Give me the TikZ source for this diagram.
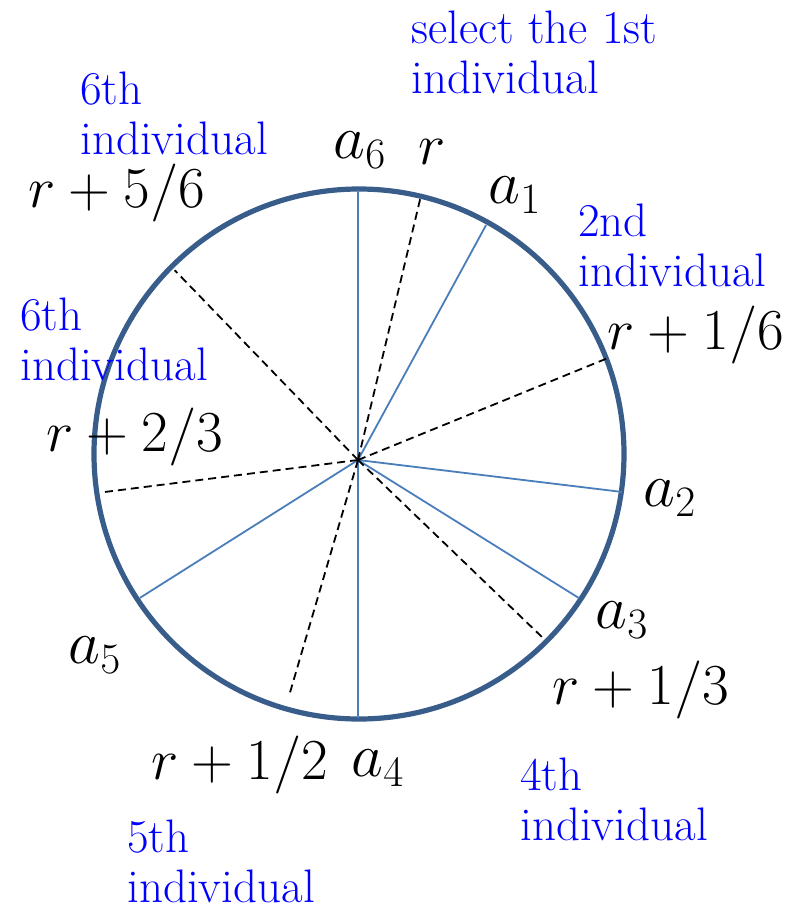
\RequirePackage{fix-cm}
\documentclass[tikz,border=0pt]{standalone}
\usepackage{tikz}
\usepackage{xcolor}
\definecolor{rimblue}{HTML}{385D8A}
\definecolor{spokeblue}{HTML}{4A7EBB}

\begin{document}
\begin{tikzpicture}[x=0.5pt,y=0.5pt,
	rim/.style={draw=rimblue,line width=2.6pt},
	spoke/.style={draw=spokeblue,line width=0.9pt},
	pointer/.style={draw=black,line width=0.9pt,dash pattern=on 4pt off 2.5pt},
	lbl/.style={font=\fontsize{29}{32}\selectfont,inner sep=0pt},
	sub/.style={font=\fontsize{31}{34}\selectfont,inner sep=0pt},
	note/.style={font=\fontsize{23.5}{25}\selectfont,text=blue,align=left,inner sep=0pt,anchor=north west}]
			\useasboundingbox (0,0) rectangle (786,-911);
			\coordinate (c) at (359,-454);
			\coordinate (v0) at (358,-460);
			\draw[rim] (c) circle (265);
			\draw[spoke] (v0) -- ++(61.4:267.6) coordinate (e1);
			\draw[spoke] (v0) -- ++(-6.9:265.9) coordinate (e2);
			\draw[spoke] (v0) -- ++(-32:260.5) coordinate (e3);
			\draw[spoke] (v0) -- ++(-90:258) coordinate (e4);
			\draw[spoke] (v0) -- ++(212.3:258) coordinate (e5);
			\draw[spoke] (v0) -- ++(90:270) coordinate (e6);
			\draw[pointer] (v0) -- ++(76.6:272.4) coordinate (p0);
			\draw[pointer] (v0) -- ++(22.2:272.2) coordinate (p1);
			\draw[pointer] (v0) -- ++(-43.9:256.7) coordinate (p2);
			\draw[pointer] (v0) -- ++(253.7:242.7) coordinate (p3);
			\draw[pointer] (v0) -- ++(187.2:255) coordinate (p4);
			\draw[pointer] (v0) -- ++(134:263.8) coordinate (p5);
			\node[sub] (la6) at (360,-150) {$a_6$};
			\node[sub] (la1) at (515,-195) {$a_1$};
			\node[sub] (la2) at (670,-498) {$a_2$};
			\node[sub] (la3) at (622,-620) {$a_3$};
			\node[sub] (la4) at (378,-768) {$a_4$};
			\node[sub] (la5) at (95,-655) {$a_5$};
			\node[lbl] (lr0) at (432,-152) {$r$};
			\node[lbl] (lr1) at (696,-335) {$r+1/6$};
			\node[lbl] (lr2) at (641,-690) {$r+1/3$};
			\node[lbl] (lr3) at (240,-765) {$r+1/2$};
			\node[lbl] (lr4) at (135,-437) {$r+2/3$};
			\node[lbl] (lr5) at (117,-193) {$r+5/6$};
			\node[note] (n1) at (411,-10) {select the 1st\\individual};
			\node[note] (n2) at (578,-203) {2nd\\individual};
			\node[note] (n4) at (520,-757) {4th\\individual};
			\node[note] (n5) at (127,-819) {5th\\individual};
			\node[note] (n6a) at (20,-297) {6th\\individual};
			\node[note] (n6b) at (80,-71) {6th\\individual};
		\end{tikzpicture}
\end{document}
